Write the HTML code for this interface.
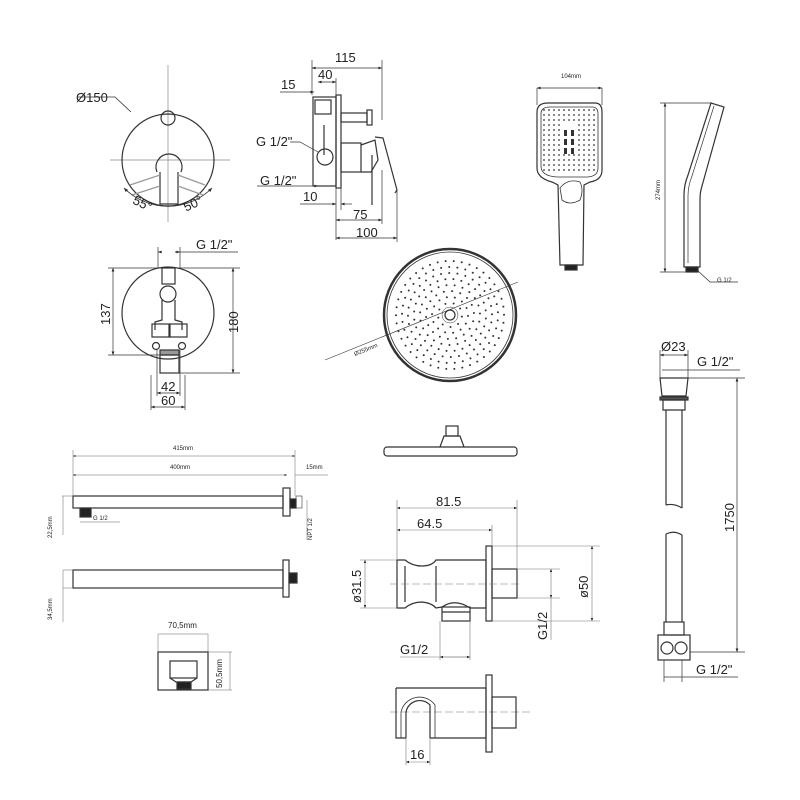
<!DOCTYPE html>
<html><head><meta charset="utf-8"><style>
html,body{margin:0;padding:0;background:#fff;width:800px;height:800px;overflow:hidden}
svg{display:block}
text{font-family:"Liberation Sans",sans-serif;fill:#222}
</style></head><body>
<svg id="s" width="800" height="800" viewBox="0 0 800 800" xmlns="http://www.w3.org/2000/svg">
<defs>
<marker id="a" viewBox="0 0 10 10" refX="10" refY="5" markerWidth="7" markerHeight="5" orient="auto-start-reverse"><path d="M0,1 L10,5 L0,9z" fill="#222"/></marker>
</defs>
<g fill="none" stroke="#333" stroke-width="1.2">
<!-- front valve -->
<line x1="168" y1="65" x2="168" y2="222" stroke="#888" stroke-width=".7"/>
<line x1="110" y1="160" x2="230" y2="160" stroke="#888" stroke-width=".7"/>
<circle cx="168" cy="160" r="46"/>
<circle cx="168" cy="118" r="7"/>
<path d="M157,172 A13,13 0 1 1 181,172"/>
<path d="M160,172 L160,204 L178,204 L178,172"/>
<path d="M130,185 L160,175 M132,195 L160,186 M205,185 L178,175 M203,195 L178,186" stroke="#999"/>
<path d="M124,188 A62,62 0 0 0 212,188" marker-start="url(#a)" marker-end="url(#a)" stroke-width=".8"/>
<path d="M78,97 L115,97 L131,112" stroke-width=".8"/>
<!-- side view valve -->
<rect x="313" y="97" width="23" height="89"/>
<rect x="336" y="95" width="5" height="93"/>
<rect x="315" y="100" width="16" height="14"/>
<rect x="341" y="113" width="26" height="9"/>
<rect x="367" y="110" width="5" height="15"/>
<line x1="324" y1="125" x2="324" y2="155"/>
<circle cx="325" cy="157" r="8"/>
<rect x="341" y="143" width="20" height="29"/>
<path d="M361,145 L375,140 L378,160 L371,172 L361,172"/>
<path d="M372,155 L372,205 M375,137 L383,138 L397,190 L395,193"/>
<g stroke-width=".7">
<line x1="312" y1="60" x2="312" y2="95"/><line x1="382" y1="60" x2="382" y2="120"/>
<line x1="312" y1="68" x2="382" y2="68" marker-start="url(#a)" marker-end="url(#a)"/>
<line x1="318" y1="82" x2="336" y2="82" marker-start="url(#a)" marker-end="url(#a)"/>
<line x1="336" y1="78" x2="336" y2="95"/>
<line x1="280" y1="92" x2="314" y2="92" marker-end="url(#a)"/>
<path d="M290,142 L300,142 L318,152"/>
<line x1="257" y1="186" x2="318" y2="186" marker-end="url(#a)"/>
<line x1="300" y1="204" x2="336" y2="204" marker-end="url(#a)"/>
<line x1="341" y1="204" x2="352" y2="204" marker-start="url(#a)"/>
<line x1="336" y1="188" x2="336" y2="240"/>
<line x1="341" y1="188" x2="341" y2="210"/>
<line x1="336" y1="220" x2="382" y2="220" marker-start="url(#a)" marker-end="url(#a)"/>
<line x1="382" y1="170" x2="382" y2="224"/>
<line x1="336" y1="238" x2="397" y2="238" marker-start="url(#a)" marker-end="url(#a)"/>
<line x1="397" y1="190" x2="397" y2="242"/>
</g>
<!-- rear view -->
<circle cx="168" cy="313" r="46"/>
<rect x="162" y="268" width="13" height="16"/>
<circle cx="168" cy="294" r="8"/>
<path d="M162,300 L162,320 L155,322 L155,330 M175,300 L175,320 L182,322 L182,330"/>
<rect x="152" y="324" width="17" height="13"/><rect x="170" y="324" width="17" height="13"/>
<circle cx="156" cy="346" r="3.5"/><circle cx="182" cy="346" r="3.5"/>
<rect x="160" y="350" width="19" height="5" fill="#999"/>
<rect x="160" y="355" width="19" height="18"/>
<g stroke-width=".7">
<line x1="158" y1="252" x2="162" y2="252" marker-start="url(#a)"/><line x1="175" y1="252" x2="180" y2="252" marker-end="url(#a)"/><line x1="175" y1="252" x2="238" y2="252"/>
<line x1="158" y1="247" x2="158" y2="268"/><line x1="180" y1="247" x2="180" y2="268"/>
<line x1="108" y1="268" x2="240" y2="268"/>
<line x1="108" y1="355" x2="160" y2="355"/>
<line x1="113" y1="268" x2="113" y2="355" marker-start="url(#a)" marker-end="url(#a)"/>
<line x1="179" y1="373" x2="240" y2="373"/>
<line x1="233" y1="268" x2="233" y2="373" marker-start="url(#a)" marker-end="url(#a)"/>
<line x1="157" y1="350" x2="157" y2="396"/><line x1="180" y1="350" x2="180" y2="396"/>
<line x1="157" y1="393" x2="180" y2="393" marker-start="url(#a)" marker-end="url(#a)"/>
<line x1="151" y1="375" x2="151" y2="410"/><line x1="185" y1="375" x2="185" y2="410"/>
<line x1="151" y1="407" x2="185" y2="407" marker-start="url(#a)" marker-end="url(#a)"/>
</g>
<!-- rain shower -->
<circle cx="450" cy="315" r="66" stroke-width="2.5"/>
<circle cx="450" cy="315" r="63" stroke-width=".8"/>
<circle cx="450" cy="315" r="5"/>
<circle cx="450" cy="315" r="8" stroke-width=".5"/>
<line x1="325" y1="360" x2="518" y2="282" stroke-width=".6"/>
<rect x="384" y="447" width="133" height="9" rx="3"/>
<path d="M440,447 L444,436 L460,436 L464,447"/>
<rect x="446" y="426" width="12" height="10"/>
<!-- handshower -->
<path d="M548,103 L595,103 Q602,103 602,112 L602,170 Q602,180 590,182 L584,185 L583,265 L560,265 L558,185 L552,182 Q537,178 537,168 L537,112 Q537,103 548,103Z"/>
<path d="M550,107 L592,107 Q598,107 598,114 L598,168 Q598,176 588,177 L557,177 Q541,176 541,166 L541,114 Q541,107 550,107Z" stroke-width=".8"/>
<path d="M560,188 Q568,178 580,182 Q584,190 580,200 Q570,206 562,200Z" stroke-width=".8"/>
<rect x="565" y="265" width="12" height="5" fill="#222"/>
<path d="M684,267 L684,195 Q684,185 688,175 L711,103 L724,107 L702,186 Q700,192 700,200 L700,267Z"/>
<path d="M688,263 L688,196 Q688,186 692,176 L714,106" stroke-width=".7"/>
<rect x="686" y="267" width="12" height="5" fill="#222"/>
<g stroke-width=".7">
<line x1="537" y1="88" x2="537" y2="105"/><line x1="602" y1="88" x2="602" y2="105"/>
<line x1="537" y1="88" x2="602" y2="88" marker-start="url(#a)" marker-end="url(#a)"/>
<line x1="665" y1="103" x2="665" y2="272" marker-start="url(#a)" marker-end="url(#a)"/>
<line x1="660" y1="103" x2="712" y2="103"/>
<line x1="660" y1="272" x2="688" y2="272"/>
<path d="M697,270 L710,282 L738,282"/>
</g>
<!-- hose -->
<path d="M660,378 L688,378 L686,396 L662,396Z"/>
<rect x="660" y="397" width="28" height="3" fill="#555"/>
<path d="M663,400 L685,400 L685,410 L663,410Z"/>
<path d="M666,410 L666,505 M682,410 L682,508 M666,505 Q674,503 682,508"/>
<path d="M666,534 Q674,530 682,535 M666,534 L666,622 M682,535 L682,622"/>
<rect x="664" y="622" width="20" height="13"/>
<rect x="658" y="635" width="32" height="25"/>
<circle cx="667" cy="648" r="6"/><circle cx="681" cy="648" r="6"/>
<g stroke-width=".7">
<line x1="660" y1="350" x2="660" y2="378"/><line x1="688" y1="350" x2="688" y2="378"/>
<line x1="660" y1="355" x2="688" y2="355" marker-start="url(#a)" marker-end="url(#a)"/>
<line x1="662" y1="370" x2="740" y2="370"/>
<line x1="688" y1="378" x2="745" y2="378"/><line x1="690" y1="652" x2="745" y2="652"/>
<line x1="737" y1="378" x2="737" y2="652" marker-start="url(#a)" marker-end="url(#a)"/>
<line x1="664" y1="660" x2="664" y2="682"/><line x1="682" y1="660" x2="682" y2="682"/>
<line x1="664" y1="677" x2="738" y2="677"/>
</g>
<!-- shower arm -->
<rect x="73" y="496" width="210" height="12"/>
<rect x="283" y="488" width="7" height="28"/>
<rect x="290" y="499" width="6" height="9" fill="#222"/>
<rect x="296" y="496" width="6" height="12" stroke-width=".6"/>
<rect x="80" y="508" width="11" height="9" fill="#222"/>
<g stroke-width=".5" stroke="#666">
<line x1="73" y1="450" x2="73" y2="496"/><line x1="295" y1="450" x2="295" y2="496"/>
<line x1="73" y1="456" x2="295" y2="456" marker-start="url(#a)" marker-end="url(#a)"/>
<line x1="73" y1="475" x2="287" y2="475" marker-start="url(#a)" marker-end="url(#a)"/>
<line x1="295" y1="475" x2="328" y2="475"/>
<line x1="62" y1="496" x2="73" y2="496"/><line x1="63" y1="496" x2="63" y2="535"/>
<line x1="80" y1="522" x2="120" y2="522"/>
<line x1="307" y1="500" x2="307" y2="540"/>
</g>
<rect x="73" y="570" width="210" height="18"/>
<rect x="283" y="560" width="6" height="37"/>
<rect x="289" y="573" width="8" height="10" fill="#222"/>
<g stroke-width=".5" stroke="#666">
<line x1="63" y1="570" x2="73" y2="570"/><line x1="63" y1="570" x2="63" y2="622"/><line x1="63" y1="588" x2="73" y2="588"/>
<line x1="158" y1="634" x2="208" y2="634"/><line x1="158" y1="634" x2="158" y2="652"/><line x1="208" y1="634" x2="208" y2="652"/>
<line x1="208" y1="652" x2="232" y2="652"/><line x1="208" y1="690" x2="232" y2="690"/><line x1="230" y1="652" x2="230" y2="690"/>
</g>
<rect x="158" y="652" width="50" height="38"/>
<rect x="170" y="661" width="27" height="17"/>
<path d="M170,678 L176,682 L191,682 L197,678"/>
<rect x="177" y="682" width="14" height="7" fill="#222"/>
<!-- wall outlet -->
<path d="M397,560 L405,560 Q412,566 422,566 Q432,566 436,560 L486,560 L486,608 L470,608 Q455,598 442,607 L436,608 Q432,603 422,602 Q412,602 405,608 L397,608Z"/>
<path d="M405,566 L405,602 M436,566 L436,602"/>
<rect x="486" y="546" width="6" height="75"/>
<rect x="492" y="569" width="25" height="29"/>
<rect x="442" y="607" width="28" height="14"/>
<line x1="442" y1="612" x2="470" y2="612"/>
<g stroke-width=".6" stroke="#777">
<line x1="390" y1="584" x2="520" y2="584" stroke-dasharray="8,3"/>
<line x1="397" y1="500" x2="397" y2="560"/><line x1="517" y1="500" x2="517" y2="569"/><line x1="492" y1="525" x2="492" y2="546"/>
<line x1="397" y1="508" x2="517" y2="508" marker-start="url(#a)" marker-end="url(#a)"/>
<line x1="397" y1="530" x2="492" y2="530" marker-start="url(#a)" marker-end="url(#a)"/>
<line x1="360" y1="560" x2="397" y2="560"/><line x1="360" y1="608" x2="397" y2="608"/>
<line x1="365" y1="560" x2="365" y2="608" marker-start="url(#a)" marker-end="url(#a)"/>
<line x1="492" y1="546" x2="600" y2="546"/><line x1="492" y1="621" x2="600" y2="621"/>
<line x1="592" y1="546" x2="592" y2="621" marker-start="url(#a)" marker-end="url(#a)"/>
<line x1="517" y1="569" x2="560" y2="569"/><line x1="517" y1="598" x2="560" y2="598"/>
<line x1="551" y1="569" x2="551" y2="598" marker-start="url(#a)" marker-end="url(#a)"/>
<line x1="551" y1="598" x2="551" y2="640"/>
<line x1="440" y1="621" x2="440" y2="660"/><line x1="470" y1="621" x2="470" y2="660"/>
<line x1="400" y1="657" x2="470" y2="657"/>
<line x1="440" y1="657" x2="470" y2="657" marker-start="url(#a)" marker-end="url(#a)"/>
<line x1="390" y1="712" x2="530" y2="712" stroke-dasharray="8,3"/>
<line x1="406" y1="738" x2="406" y2="765"/><line x1="430" y1="738" x2="430" y2="765"/>
<line x1="406" y1="762" x2="430" y2="762" marker-start="url(#a)" marker-end="url(#a)"/>
</g>
<path d="M396,688 L486,688 M396,688 L396,738 L406,738 M430,738 L486,738 L486,688"/>
<rect x="486" y="675" width="6" height="77"/>
<rect x="492" y="697" width="24" height="31"/>
<path d="M406,738 L406,712 A14,14 0 0 1 430,705 L430,738" stroke-width="1.2"/>
<path d="M401,738 L401,712 A19,19 0 0 1 435,705 L435,738" stroke-width=".8"/>
</g>
<g id="dots" fill="#333"></g>
<g font-size="13">
<text x="76" y="102">Ø150</text>
<text x="133" y="208" transform="rotate(25 143 203)">55°</text>
<text x="183" y="208" transform="rotate(-25 193 203)">50°</text>
<text x="335" y="62">115</text>
<text x="318" y="79">40</text>
<text x="281" y="89">15</text>
<text x="256" y="146">G 1/2"</text>
<text x="260" y="185">G 1/2"</text>
<text x="303" y="201">10</text>
<text x="353" y="219">75</text>
<text x="356" y="237">100</text>
<text x="196" y="249">G 1/2"</text>
<text transform="translate(110,325) rotate(-90)">137</text>
<text transform="translate(238,333) rotate(-90)">180</text>
<text x="161" y="391">42</text>
<text x="161" y="405">60</text>
<text x="661" y="351">Ø23</text>
<text x="697" y="366">G 1/2"</text>
<text transform="translate(734,532) rotate(-90)">1750</text>
<text x="696" y="674">G 1/2"</text>
</g>
<g font-size="13" fill="#444" style="font-family:'DejaVu Sans',sans-serif">
<text x="436" y="506">81.5</text>
<text x="417" y="528">64.5</text>
<text transform="translate(361,603) rotate(-90)">ø31.5</text>
<text transform="translate(588,598) rotate(-90)">ø50</text>
<text transform="translate(547,640) rotate(-90)">G1/2</text>
<text x="400" y="654">G1/2</text>
<text x="410" y="759">16</text>
</g>
<g font-size="6" fill="#666">
<text x="561" y="78">104mm</text>
<text transform="translate(660,200) rotate(-90)">274mm</text>
<text x="717" y="282">G 1/2</text>
<text transform="translate(355,356) rotate(-22)">Ø255mm</text>
<text x="173" y="450">415mm</text>
<text x="170" y="469">400mm</text>
<text x="306" y="469">15mm</text>
<text x="93" y="520">G 1/2</text>
<text transform="translate(52,538) rotate(-90)">22,5mm</text>
<text transform="translate(312,540) rotate(-90)">NPT 1/2</text>
<text transform="translate(52,620) rotate(-90)">34,5mm</text>
<text x="168" y="628" font-size="8">70,5mm</text>
<text transform="translate(222,688) rotate(-90)" font-size="8">50,5mm</text>
</g>
</svg>
<script>
var g=document.getElementById('dots'),ns='http://www.w3.org/2000/svg';
function d(x,y,r){var c=document.createElementNS(ns,'circle');c.setAttribute('cx',x);c.setAttribute('cy',y);c.setAttribute('r',r);g.appendChild(c);}
for(var R=12;R<60;R+=6){var n=Math.floor(2*Math.PI*R/8);for(var i=0;i<n;i++){var t=i*2*Math.PI/n+R;d(450+R*Math.cos(t),315+R*Math.sin(t),1);}}
for(var y=110;y<=172;y+=5)for(var x=544;x<=596;x+=5){if(x>561&&x<578&&y>120&&y<155)continue;d(x,y,0.9);}
for(var k=0;k<3;k++){var r=document.createElementNS(ns,'rect');r.setAttribute('x',564);r.setAttribute('y',130+k*9);r.setAttribute('width',3);r.setAttribute('height',6);g.appendChild(r);var r2=r.cloneNode();r2.setAttribute('x',571);g.appendChild(r2);}
</script>
</body></html>
